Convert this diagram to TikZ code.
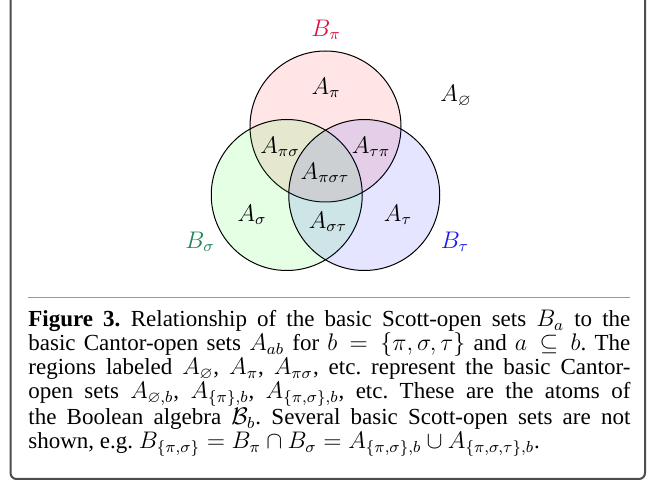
\documentclass[tikz,border=0pt]{standalone}
\usepackage{amsmath,amssymb}
\usepackage{fontspec}
\setmainfont{Liberation Serif}
\usepackage{tikz}
\usetikzlibrary{positioning,calc}
\definecolor{myRed}{rgb}{0.86,0.08,0.24}
\definecolor{myGreen}{rgb}{0.12,0.52,0.33}
\definecolor{myBlue}{rgb}{0.1,0.1,0.95}
\definecolor{myFrame}{rgb}{0.3,0.3,0.3}
\definecolor{myRule}{rgb}{0.6,0.6,0.6}
\frenchspacing

\begin{document}
\begin{tikzpicture}[x=0.5pt,y=-0.5pt]
\tikzstyle{set}=[circle, draw=black, line width=0.5pt, minimum size=75.5pt, inner sep=0pt, fill opacity=0.1]
\tikzstyle{lbl}=[font=\fontsize{12}{14}\selectfont, inner sep=0pt]
\useasboundingbox (0,0) rectangle (654,486);
% outer frame and rule
\draw[myFrame, line width=1pt, rounded corners=3pt] (10.5,-20) rectangle (645,479);
\draw[myRule, line width=0.5pt] (28,298) -- (630,298);
% the three Scott-open sets
\node[set, fill=red]   (Bpi)  at (325.5,126.5) {};
\node[set, fill=green] (Bsig) at (286.75,195) {};
\node[set, fill=blue]  (Btau) at (364.25,195) {};
% set names
\node[lbl, text=myRed]   (nPi)  at (326,30)  {$B_\pi$};
\node[lbl, text=myGreen] (nSig) at (200,242) {$B_\sigma$};
\node[lbl, text=myBlue]  (nTau) at (455,242) {$B_\tau$};
% atoms
\node[lbl] (aEmpty) at (456,96)  {$A_\varnothing$};
\node[lbl] (aPi)    at (326,88)  {$A_\pi$};
\node[lbl] (aPiSig) at (280,147) {$A_{\pi\sigma}$};
\node[lbl] (aTauPi) at (371,147) {$A_{\tau\pi}$};
\node[lbl] (aAll)   at (325,173) {$A_{\pi\sigma\tau}$};
\node[lbl] (aSig)   at (252,215) {$A_\sigma$};
\node[lbl] (aSigTau) at (328,222) {$A_{\sigma\tau}$};
\node[lbl] (aTau)   at (398,215) {$A_\tau$};
% caption
\node[anchor=north west, inner sep=0pt, text width=301pt, align=justify,
      font=\fontsize{11.5}{12}\selectfont] (cap) at (28,310)
{\textbf{Figure 3.}\hspace{0.45em}Relationship of the basic Scott-open sets $B_a$ to the\linebreak
basic Cantor-open sets $A_{ab}$ for $b=\{\pi,\sigma,\tau\}$ and $a\subseteq b$. The\linebreak
regions labeled $A_\varnothing$, $A_\pi$, $A_{\pi\sigma}$, etc. represent the basic Cantor-\linebreak
open sets $A_{\varnothing,b}$, $A_{\{\pi\},b}$, $A_{\{\pi,\sigma\},b}$, etc. These are the atoms of\linebreak
the Boolean algebra $\mathcal{B}_b$. Several basic Scott-open sets are not\linebreak
shown, e.g. $B_{\{\pi,\sigma\}}=B_\pi\cap B_\sigma=A_{\{\pi,\sigma\},b}\cup A_{\{\pi,\sigma,\tau\},b}$.};
\end{tikzpicture}
\end{document}
